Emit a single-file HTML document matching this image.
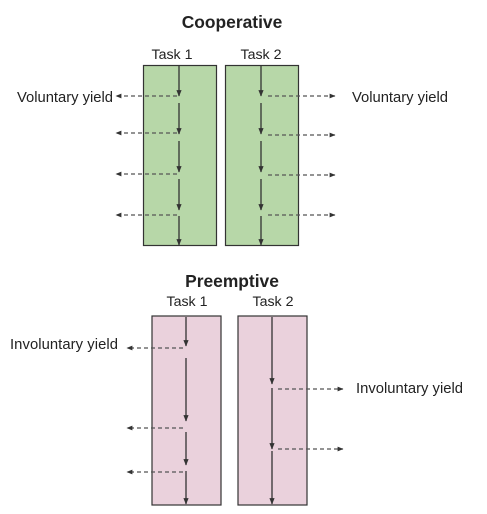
<!DOCTYPE html>
<html><head><meta charset="utf-8"><style>html,body{margin:0;padding:0;background:#fff;}svg{display:block}</style></head>
<body>
<svg width="487" height="514" viewBox="0 0 487 514" xmlns="http://www.w3.org/2000/svg" font-family="Liberation Sans, Arial, sans-serif">
<defs>
<marker id="a" viewBox="0 0 10 10" refX="9" refY="5" markerWidth="5" markerHeight="5" orient="auto"><path d="M0,1 L10,5 L0,9 z" fill="#333"/></marker>
</defs>
<text x="232" y="28" font-size="17.4" font-weight="bold" text-anchor="middle" fill="#222">Cooperative</text>
<text x="172" y="59" font-size="14.2" text-anchor="middle" fill="#222">Task 1</text>
<text x="261" y="59" font-size="14.2" text-anchor="middle" fill="#222">Task 2</text>
<text x="17" y="102" font-size="14.8" fill="#222" textLength="96">Voluntary yield</text>
<text x="352" y="102" font-size="14.8" fill="#222" textLength="96">Voluntary yield</text>
<rect x="143.5" y="65.5" width="73" height="180" fill="#b7d7a8" stroke="#333" stroke-width="1.2"/>
<rect x="225.5" y="65.5" width="73" height="180" fill="#b7d7a8" stroke="#333" stroke-width="1.2"/>
<g stroke="#333" stroke-width="1.3" marker-end="url(#a)">
<line x1="179" y1="66" x2="179" y2="96"/><line x1="179" y1="103" x2="179" y2="134"/><line x1="179" y1="141" x2="179" y2="172"/><line x1="179" y1="179" x2="179" y2="210"/><line x1="179" y1="216" x2="179" y2="245"/>
<line x1="261" y1="66" x2="261" y2="96"/><line x1="261" y1="103" x2="261" y2="134"/><line x1="261" y1="141" x2="261" y2="172"/><line x1="261" y1="179" x2="261" y2="210"/><line x1="261" y1="216" x2="261" y2="245"/>
</g>
<g stroke="#555" stroke-width="1.2" stroke-dasharray="4,3" marker-end="url(#a)">
<line x1="177" y1="96" x2="116" y2="96"/><line x1="177" y1="133" x2="116" y2="133"/><line x1="177" y1="174" x2="116" y2="174"/><line x1="177" y1="215" x2="116" y2="215"/>
<line x1="268" y1="96" x2="335" y2="96"/><line x1="268" y1="135" x2="335" y2="135"/><line x1="268" y1="175" x2="335" y2="175"/><line x1="268" y1="215" x2="335" y2="215"/>
</g>
<text x="232" y="287" font-size="17.4" font-weight="bold" text-anchor="middle" fill="#222">Preemptive</text>
<text x="187" y="306" font-size="14.2" text-anchor="middle" fill="#222">Task 1</text>
<text x="273" y="306" font-size="14.2" text-anchor="middle" fill="#222">Task 2</text>
<text x="10" y="349" font-size="14.8" fill="#222" textLength="108">Involuntary yield</text>
<text x="356" y="393" font-size="14.8" fill="#222" textLength="107">Involuntary yield</text>
<rect x="152" y="316" width="69" height="189" fill="#ead1dc" stroke="#333" stroke-width="1.2"/>
<rect x="238" y="316" width="69" height="189" fill="#ead1dc" stroke="#333" stroke-width="1.2"/>
<g stroke="#333" stroke-width="1.3" marker-end="url(#a)">
<line x1="186" y1="317" x2="186" y2="346"/><line x1="186" y1="358" x2="186" y2="421"/><line x1="186" y1="432" x2="186" y2="465"/><line x1="186" y1="471" x2="186" y2="504"/>
<line x1="272" y1="317" x2="272" y2="384"/><line x1="272" y1="388" x2="272" y2="449"/><line x1="272" y1="451" x2="272" y2="504"/>
</g>
<g stroke="#555" stroke-width="1.2" stroke-dasharray="4,3" marker-end="url(#a)">
<line x1="183" y1="348" x2="127" y2="348"/><line x1="183" y1="428" x2="127" y2="428"/><line x1="183" y1="472" x2="127" y2="472"/>
<line x1="278" y1="389" x2="343" y2="389"/><line x1="278" y1="449" x2="343" y2="449"/>
</g>
</svg>
</body></html>
